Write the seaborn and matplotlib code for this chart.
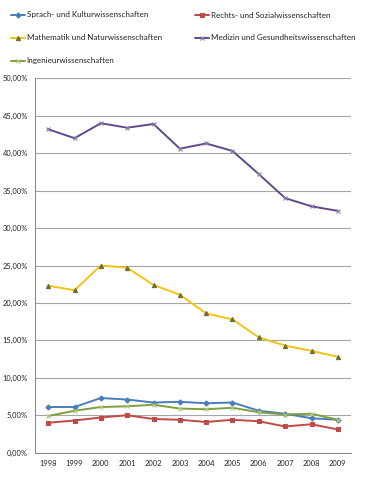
import matplotlib
matplotlib.use("Agg")
import matplotlib.pyplot as plt
import seaborn as sns
import pandas as pd
import numpy as np
from matplotlib.ticker import FuncFormatter, FixedLocator

years = ["1998", "1999", "2000", "2001", "2002", "2003", "2004", "2005", "2006", "2007", "2008", "2009"]

sprach = [6.1, 6.1, 7.3, 7.1, 6.7, 6.8, 6.6, 6.7, 5.6, 5.2, 4.6, 4.4]
rechts = [4.0, 4.3, 4.7, 5.0, 4.5, 4.4, 4.1, 4.4, 4.2, 3.5, 3.8, 3.1]
mathe = [22.3, 21.7, 25.0, 24.7, 22.4, 21.1, 18.6, 17.8, 15.4, 14.3, 13.6, 12.8]
medizin = [43.2, 42.0, 44.0, 43.4, 43.9, 40.6, 41.3, 40.3, 37.2, 34.0, 32.9, 32.3]
ingenieur = [4.9, 5.6, 6.1, 6.2, 6.4, 5.9, 5.8, 6.0, 5.4, 5.1, 5.2, 4.4]

names = ["Sprach- und Kulturwissenschaften", "Rechts- und Sozialwissenschaften",
         "Mathematik und Naturwissenschaften", "Medizin und Gesundheitswissenschaften",
         "Ingenieurwissenschaften"]
series = [sprach, rechts, mathe, medizin, ingenieur]

styles = [
    dict(color="#4A7EBB", marker="D", mfc="#4A7EBB", mec="#4A7EBB", ms=2.6),
    dict(color="#BE4B48", marker="s", mfc="#BE4B48", mec="#BE4B48", ms=3.2),
    dict(color="#F2C314", marker="^", mfc="#6E6E32", mec="#6E6E32", ms=3.0),
    dict(color="#5F4B8B", marker="x", mfc="#8C7DAA", mec="#8C7DAA", ms=3.4),
    dict(color="#7F9F3F", marker="x", mfc="#B5CC86", mec="#B5CC86", ms=3.4),
]

sns.set_style("white")
plt.rcParams["font.family"] = ["Lato", "DejaVu Sans"]

fig = plt.figure(figsize=(3.65, 4.79), dpi=100)
ax = fig.add_axes([35/365, 1-452.7/479, (351-35)/365, (452.7-78.3)/479])

idx = np.arange(len(years))
handles = []
for name, vals, st in zip(names, series, styles):
    df = pd.DataFrame({"x": idx, "y": vals})
    sns.lineplot(data=df, x="x", y="y", ax=ax, color=st["color"], linewidth=1.4,
                 marker=st["marker"], markersize=st["ms"], markerfacecolor=st["mfc"],
                 markeredgecolor=st["mec"], markeredgewidth=0.8, label=name, legend=False)
    handles.append(ax.lines[-1])

ax.set_xlim(-0.5, len(years) - 0.5)
ax.set_ylim(0, 50)
ax.set_yticks(np.arange(0, 51, 5))
ax.yaxis.set_major_formatter(FuncFormatter(lambda v, p: f"{v:.2f}%".replace(".", ",")))
ax.set_xticks(idx)
ax.set_xticklabels(years)
ax.xaxis.set_minor_locator(FixedLocator(np.arange(-0.5, len(years), 1)))
ax.tick_params(axis="x", which="major", length=0, labelsize=5.4, pad=5, colors="#222222")
ax.tick_params(axis="x", which="minor", length=3, width=0.6, color="#868686")
ax.tick_params(axis="y", which="major", length=3, width=0.6, color="#868686", labelsize=5.4, pad=2, labelcolor="#222222")
ax.set_xlabel("")
ax.set_ylabel("")
ax.grid(axis="y", color="#A6A6A6", linewidth=0.8)
ax.set_axisbelow(True)
for s in ["top", "right"]:
    ax.spines[s].set_visible(False)
for s in ["left", "bottom"]:
    ax.spines[s].set_color("#868686")
    ax.spines[s].set_linewidth(0.7)

order = [0, 2, 4, 1, 3]
leg = fig.legend([handles[i] for i in order], [names[i] for i in order],
                 loc="upper left", bbox_to_anchor=(11/365, 1 - 11.5/479), ncol=2,
                 frameon=False, fontsize=5.8, handlelength=1.75, handletextpad=0.2,
                 columnspacing=4.1, labelspacing=1.98, borderaxespad=0, borderpad=0)
for t in leg.get_texts():
    t.set_color("#222222")

fig.savefig("out.png", dpi=100)
